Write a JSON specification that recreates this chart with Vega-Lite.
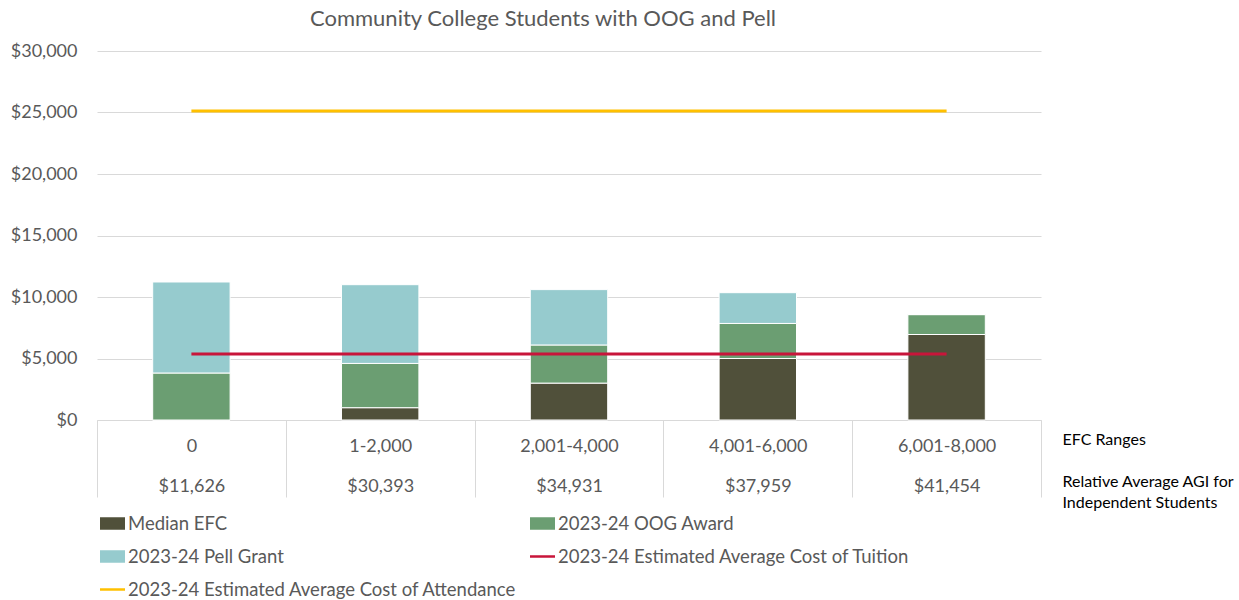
{
  "$schema": "https://vega.github.io/schema/vega-lite/v6.json",
  "autosize": {"type": "none"},
  "width": 944,
  "height": 369,
  "padding": {"left": 97, "top": 51, "right": 198, "bottom": 180},
  "background": "white",
  "config": {
    "font": "Lato",
    "view": {"stroke": null}
  },
  "title": {
    "text": "Community College Students with OOG and Pell",
    "fontSize": 22,
    "fontWeight": "normal",
    "color": "#595959",
    "anchor": "middle",
    "dx": -26,
    "offset": 11,
    "font": "Lato"
  },
  "data": {
    "values": [
      {"cat": "0|$11,626", "series": "Median EFC", "value": 0, "ord": 1},
      {"cat": "0|$11,626", "series": "2023-24 OOG Award", "value": 3820, "ord": 2},
      {"cat": "0|$11,626", "series": "2023-24 Pell Grant", "value": 7400, "ord": 3},
      {"cat": "1-2,000|$30,393", "series": "Median EFC", "value": 1000, "ord": 1},
      {"cat": "1-2,000|$30,393", "series": "2023-24 OOG Award", "value": 3600, "ord": 2},
      {"cat": "1-2,000|$30,393", "series": "2023-24 Pell Grant", "value": 6400, "ord": 3},
      {"cat": "2,001-4,000|$34,931", "series": "Median EFC", "value": 3000, "ord": 1},
      {"cat": "2,001-4,000|$34,931", "series": "2023-24 OOG Award", "value": 3100, "ord": 2},
      {"cat": "2,001-4,000|$34,931", "series": "2023-24 Pell Grant", "value": 4500, "ord": 3},
      {"cat": "4,001-6,000|$37,959", "series": "Median EFC", "value": 5000, "ord": 1},
      {"cat": "4,001-6,000|$37,959", "series": "2023-24 OOG Award", "value": 2850, "ord": 2},
      {"cat": "4,001-6,000|$37,959", "series": "2023-24 Pell Grant", "value": 2500, "ord": 3},
      {"cat": "6,001-8,000|$41,454", "series": "Median EFC", "value": 6950, "ord": 1},
      {"cat": "6,001-8,000|$41,454", "series": "2023-24 OOG Award", "value": 1620, "ord": 2},
      {"cat": "6,001-8,000|$41,454", "series": "2023-24 Pell Grant", "value": 0, "ord": 3},
      {"cat": "0|$11,626", "series": "2023-24 Estimated Average Cost of Tuition", "value": 5370, "ord": 4},
      {"cat": "1-2,000|$30,393", "series": "2023-24 Estimated Average Cost of Tuition", "value": 5370, "ord": 4},
      {"cat": "2,001-4,000|$34,931", "series": "2023-24 Estimated Average Cost of Tuition", "value": 5370, "ord": 4},
      {"cat": "4,001-6,000|$37,959", "series": "2023-24 Estimated Average Cost of Tuition", "value": 5370, "ord": 4},
      {"cat": "6,001-8,000|$41,454", "series": "2023-24 Estimated Average Cost of Tuition", "value": 5370, "ord": 4},
      {"cat": "0|$11,626", "series": "2023-24 Estimated Average Cost of Attendance", "value": 25130, "ord": 5},
      {"cat": "1-2,000|$30,393", "series": "2023-24 Estimated Average Cost of Attendance", "value": 25130, "ord": 5},
      {"cat": "2,001-4,000|$34,931", "series": "2023-24 Estimated Average Cost of Attendance", "value": 25130, "ord": 5},
      {"cat": "4,001-6,000|$37,959", "series": "2023-24 Estimated Average Cost of Attendance", "value": 25130, "ord": 5},
      {"cat": "6,001-8,000|$41,454", "series": "2023-24 Estimated Average Cost of Attendance", "value": 25130, "ord": 5}
    ]
  },
  "encoding": {
    "x": {
      "field": "cat",
      "type": "nominal",
      "sort": null,
      "scale": {"paddingInner": 0, "paddingOuter": 0},
      "axis": {
        "title": ["EFC Ranges", "\u200b", "Relative Average AGI for", "Independent Students"],
        "titleX": 965,
        "titleY": 11,
        "titleAlign": "left",
        "titleAnchor": "start",
        "titleBaseline": "top",
        "titleFontSize": 16,
        "titleFontWeight": "normal",
        "titleColor": "#000000",
        "titleLineHeight": 21,
        "titleFont": "Lato",
        "labelExpr": "datum.value ? split(datum.value, '|') : ''",
        "labelAngle": 0,
        "labelFontSize": 18,
        "labelColor": "#595959",
        "labelLineHeight": 40,
        "labelBaseline": "middle",
        "labelPadding": -51,
        "tickBand": "extent",
        "tickSize": 77,
        "tickColor": "#d9d9d9",
        "domainColor": "#d9d9d9",
        "labelFont": "Lato"
      }
    },
    "y": {
      "field": "value",
      "type": "quantitative",
      "scale": {"domain": [0, 30000], "nice": false},
      "axis": {
        "title": null,
        "values": [0, 5000, 10000, 15000, 20000, 25000, 30000],
        "format": "$,.0f",
        "labelFontSize": 18,
        "labelColor": "#595959",
        "labelPadding": 20,
        "domain": false,
        "ticks": false,
        "gridColor": "#d9d9d9",
        "labelFont": "Lato"
      }
    },
    "color": {
      "field": "series",
      "type": "nominal",
      "scale": {
        "domain": ["Median EFC", "2023-24 Pell Grant", "2023-24 Estimated Average Cost of Attendance", "2023-24 OOG Award", "2023-24 Estimated Average Cost of Tuition"],
        "range": ["#50503a", "#96cbce", "#ffc000", "#6b9e72", "#c8153a"]
      },
      "legend": {
        "title": null,
        "orient": "none",
        "legendX": 3,
        "legendY": 460,
        "columns": 2,
        "columnPadding": 13,
        "rowPadding": 11,
        "labelFontSize": 18.5,
        "labelColor": "#595959",
        "labelFont": "Lato",
        "labelOffset": 3,
        "symbolSize": 625,
        "symbolStrokeWidth": 0,
        "symbolOpacity": 1,
        "labelLimit": 500,
        "encode": {
          "symbols": {
            "update": {
              "shape": {"signal": "indexof(datum.value, 'Estimated') >= 0 ? 'M-1,-0.1H1V0.1H-1Z' : 'M-1,-0.5H1V0.5H-1Z'"},
              "fill": {"scale": "color", "field": "value"},
              "fillOpacity": {"value": 1},
              "strokeWidth": {"value": 0}
            }
          }
        }
      }
    }
  },
  "layer": [
    {
      "transform": [{"filter": "datum.ord <= 3"}],
      "mark": {"type": "bar", "width": {"band": 0.41}, "stroke": "white", "strokeWidth": 1},
      "encoding": {
        "order": {"field": "ord", "type": "quantitative"}
      }
    },
    {
      "transform": [{"filter": "datum.ord >= 4"}],
      "mark": {"type": "line", "strokeWidth": 3},
      "encoding": {
        "y": {"field": "value", "type": "quantitative", "stack": null}
      }
    }
  ]
}
